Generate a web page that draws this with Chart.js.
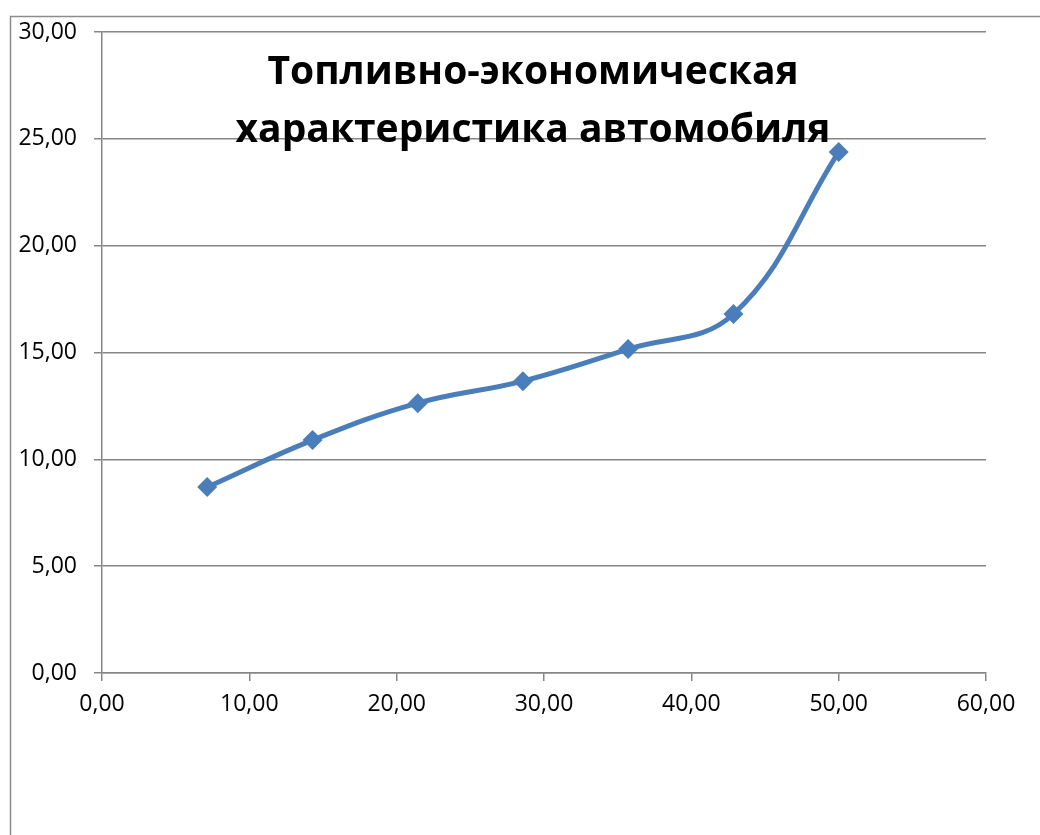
<!DOCTYPE html>
<html>
<head>
<meta charset="utf-8">
<script src="https://cdn.jsdelivr.net/npm/chart.js@4/dist/chart.umd.min.js"></script>
<style>
  html, body { margin: 0; padding: 0; background: #fff; }
  #wrap { width: 1040px; height: 835px; }
</style>
</head>
<body>
<div id="wrap"><canvas id="fuelChart"></canvas></div>
<script>
// speed (x) and fuel consumption (y)
const speeds = [7.14, 14.29, 21.43, 28.57, 35.71, 42.86, 50.00];
const fuel = [8.70, 10.90, 12.63, 13.66, 15.16, 16.80, 24.38];
const titleLines = ["Топливно-экономическая", "характеристика автомобиля"];

const fmt = v => Number(v).toFixed(2).replace(".", ",");
const gridColor = "#868686";

// outer frame + title drawn over the plot
const overlay = {
  id: "overlay",
  beforeDraw(chart) {
    const ctx = chart.ctx;
    ctx.save();
    ctx.strokeStyle = "#8c8c8c";
    ctx.lineWidth = 1.5;
    ctx.beginPath();
    ctx.moveTo(1045, 16.5);
    ctx.lineTo(10.5, 16.5);
    ctx.lineTo(10.5, 840);
    ctx.stroke();
    ctx.restore();
  },
  afterDatasetsDraw(chart) {
    const ctx = chart.ctx;
    ctx.save();
    ctx.fillStyle = "#000";
    ctx.font = "bold 39px 'Open Sans'";
    ctx.textAlign = "center";
    ctx.textBaseline = "alphabetic";
    ctx.fillText(titleLines[0], 533, 84);
    ctx.fillText(titleLines[1], 533, 142);
    ctx.restore();
  }
};

new Chart(document.getElementById("fuelChart"), {
  type: "line",
  data: {
    datasets: [{
      data: speeds.map((s, i) => ({ x: s, y: fuel[i] })),
      borderColor: "#4a7ebb",
      backgroundColor: "#4a7ebb",
      borderWidth: 5,
      tension: 0.4,
      pointStyle: "rectRot",
      pointRadius: 10,
      pointBorderWidth: 0,
      fill: false
    }]
  },
  options: {
    responsive: true,
    maintainAspectRatio: false,
    animation: false,
    layout: { padding: { left: 0, top: 32, right: 54, bottom: 0 } },
    plugins: {
      legend: { display: false },
      tooltip: { enabled: false }
    },
    scales: {
      x: {
        type: "linear",
        min: 0, max: 60,
        ticks: {
          stepSize: 10,
          padding: 10,
          color: "#000",
          font: { family: "'Open Sans'", size: 23 },
          callback: v => fmt(v)
        },
        grid: { drawOnChartArea: false, drawTicks: true, tickLength: 8, color: gridColor, lineWidth: 1.5 },
        border: { display: true, color: gridColor, width: 1.5 },
        afterFit: s => { s.height = 162; }
      },
      y: {
        min: 0, max: 30,
        ticks: {
          stepSize: 5,
          padding: 17,
          color: "#000",
          font: { family: "'Open Sans'", size: 23 },
          callback: v => fmt(v)
        },
        grid: { drawTicks: true, tickLength: 8, color: gridColor, lineWidth: 1.5 },
        border: { display: true, color: gridColor, width: 1.5 },
        afterFit: s => { s.width = 102; }
      }
    }
  },
  plugins: [overlay]
});
</script>
</body>
</html>
